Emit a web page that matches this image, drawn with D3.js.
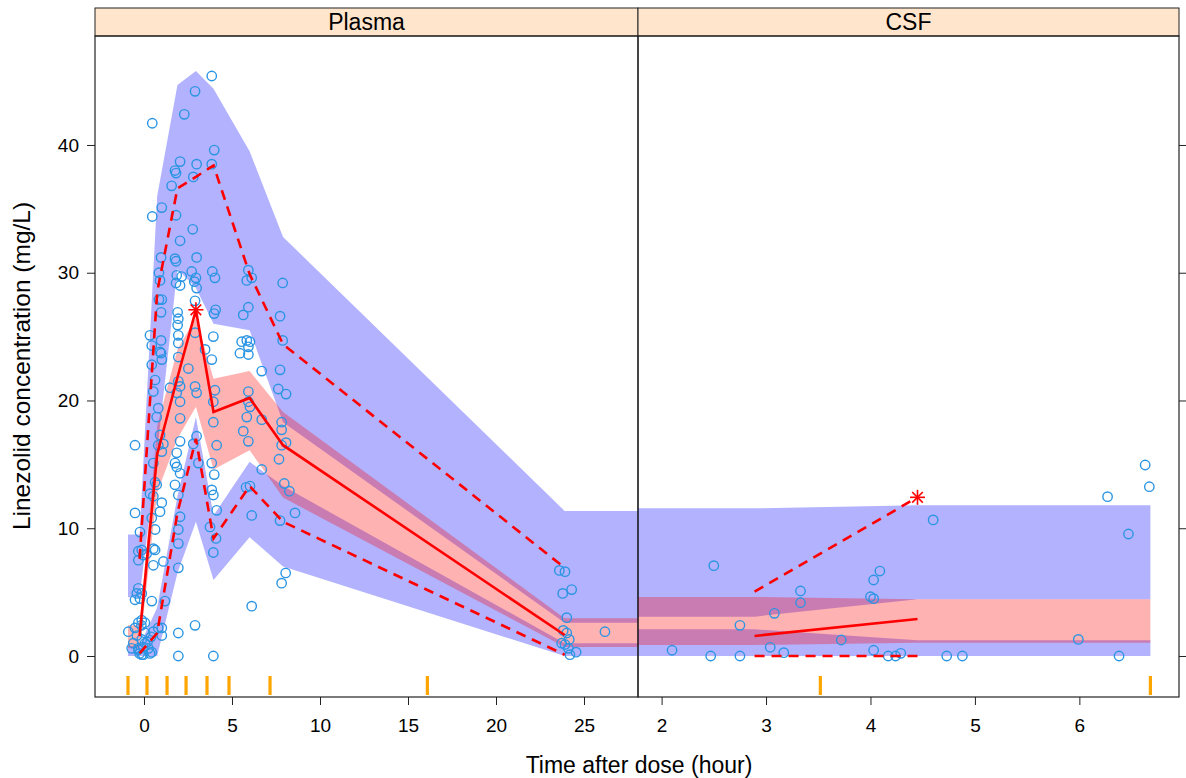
<!DOCTYPE html>
<html><head><meta charset="utf-8">
<script src="https://cdn.jsdelivr.net/npm/d3@7"></script>
<style>
body{margin:0;background:#fff}
text{font-family:"Liberation Sans",Arial,sans-serif;fill:#000}
</style></head>
<body><svg id="c" width="1186" height="778"></svg>
<script>
// ---------------- data ----------------
const panelNames = ["Plasma", "CSF"];
const yTicks = [0, 10, 20, 30, 40];
const plasmaXTicks = [0, 5, 10, 15, 20, 25];
const csfXTicks = [2, 3, 4, 5, 6];

// Plasma: bin times, observed percentiles and simulated CIs
const plasmaBinTime   = [-0.25, 0.75, 1.9, 2.95, 3.95, 6.0, 7.9, 23.9];
const plasmaObsMedian = [1.55, 15.8, 21.8, 27.1, 19.1, 20.2, 16.5, 1.64];
const plasmaObsP95    = [7.6, 28.5, 36.6, 37.5, 38.4, 29.9, 24.4, 6.9];
const plasmaObsP05    = [0.2, 1.8, 11.2, 17.0, 9.2, 13.3, 10.5, 0.1];
const plasmaP95CiLo   = [4.6, 16.0, 30.3, 28.8, 26.0, 25.5, 18.3, 2.6];
const plasmaP95CiHi   = [9.5, 36.0, 44.7, 45.8, 44.4, 39.5, 32.8, 11.35];
const plasmaMedCiLo   = [0.6, 12.8, 17.0, 19.5, 14.6, 16.1, 12.4, 0.7];
const plasmaMedCiHi   = [2.4, 18.0, 24.0, 26.5, 21.7, 22.3, 19.1, 2.95];
const plasmaP05CiLo   = [0, 0, 6.5, 10.5, 5.95, 9.3, 7.0, 0];
const plasmaP05CiHi   = [0.8, 3.8, 12.5, 18.7, 11.0, 15.2, 13.3, 1.0];
const plasmaBinEdges  = [-0.91, 0.17, 1.31, 2.39, 3.58, 4.83, 7.16, 16.1];
const plasmaBandRange = [-0.91, 30];

// CSF
const csfBinTime   = [2.89, 4.45];
const csfObsMedian = [1.57, 2.9];
const csfObsP95    = [5.03, 12.42];
const csfObsP05    = [0, 0];
const csfP95CiLo   = [3.08, 4.44];
const csfP95CiHi   = [11.56, 11.8];
const csfMedCiLo   = [0.86, 1.04];
const csfMedCiHi   = [4.62, 4.44];
const csfP05CiLo   = [0, 0];
const csfP05CiHi   = [2.09, 1.23];
const csfBinEdges  = [3.52, 6.68];
const csfBandRange = [1.5, 6.68];

// observations
const plasmaObsTime = [3.85,2.90,2.29,0.47,3.99,2.05,2.99,3.85,1.76,1.82,2.80,1.57,1.01,0.47,1.82,2.77,2.05,0.97,1.76,1.82,
2.99,2.71,3.88,4.03,5.93,6.12,5.84,0.85,0.91,1.86,2.14,1.82,2.05,2.95,2.86,2.99,7.88,0.85,1.01,2.90,
4.07,3.98,5.93,5.64,0.97,1.91,1.95,1.91,7.73,3.94,0.34,0.44,0.97,1.95,1.95,5.84,5.93,5.45,0.97,1.95,
3.85,2.90,3.47,5.55,6.02,5.93,7.88,1.01,0.91,0.44,6.69,7.73,2.52,1.48,2.05,1.95,1.86,2.05,2.05,2.90,
2.99,4.03,3.94,3.94,5.93,5.93,6.02,5.84,6.69,5.64,5.93,2.05,2.99,2.80,4.13,1.86,1.76,1.86,2.05,1.76,
1.95,3.09,3.85,3.99,3.85,3.94,4.13,5.80,6.02,6.12,0.53,0.63,0.81,0.72,1.01,1.10,0.91,0.81,-0.51,0.53,
0.63,0.72,0.34,0.53,1.01,0.44,0.91,-0.51,-0.23,0.63,0.53,-0.32,-0.32,-0.13,-0.04,0.15,0.63,0.53,1.10,-0.32,
-0.41,-0.23,-0.51,-0.13,0.44,1.19,2.05,1.95,1.95,1.95,3.75,4.09,3.94,6.12,2.90,1.95,1.95,3.94,-0.89,-0.32,
-0.13,0.53,0.81,1.01,-0.70,-0.32,-0.04,0.44,-0.13,-0.51,0.06,1.01,-0.61,0.06,-0.32,-0.13,0.34,-0.15,0.05,-0.40,
0.20,-0.05,0.25,-0.25,0.40,7.82,7.82,7.82,8.07,7.67,7.97,8.26,8.58,7.73,8.05,7.82,6.69,7.63,8.07,23.60,
23.92,23.79,24.30,24.02,23.82,24.02,23.73,23.92,24.16,24.11,24.20,24.55,26.19];
const plasmaObsConc = [45.4,44.2,42.4,41.7,39.6,38.7,38.5,38.5,38.0,37.8,37.5,36.8,35.1,34.4,34.5,33.4,32.5,31.2,31.1,30.9,
31.2,30.1,30.1,29.6,30.2,29.6,29.4,30.0,29.4,29.8,29.7,29.2,29.0,29.6,29.3,28.8,29.2,27.9,27.9,27.8,
27.1,26.8,27.3,26.7,26.9,26.9,26.4,25.9,26.6,25.0,25.1,24.3,24.7,24.5,25.1,24.7,24.2,23.7,23.7,23.4,
23.2,25.3,24.0,24.6,24.6,23.6,24.7,23.2,23.8,22.8,22.3,22.4,22.5,21.0,21.1,21.5,20.6,19.9,18.6,21.1,
20.6,20.8,19.9,18.3,20.7,19.9,19.5,18.7,18.5,17.6,16.8,16.8,17.2,16.6,16.5,15.9,15.1,14.8,14.3,13.4,
12.6,15.1,15.1,14.2,13.0,12.6,11.4,13.2,13.3,11.0,20.7,21.6,19.4,18.7,16.0,16.6,17.3,16.5,16.5,15.1,
13.6,13.4,12.7,12.5,12.0,10.8,11.3,11.2,9.7,9.9,8.4,8.2,7.5,8.3,7.9,8.0,8.3,7.1,7.4,5.3,
4.9,4.5,4.4,4.9,4.3,4.3,10.9,9.9,8.8,6.9,10.1,9.2,8.1,3.9,2.4,1.8,0.0,0.0,1.9,2.6,
2.8,1.9,2.2,1.6,0.6,0.5,0.1,0.3,1.3,2.2,1.8,2.2,1.0,1.0,0.6,0.1,0.2,2.4,2.6,1.6,
1.1,0.7,0.6,0.2,1.5,18.3,17.7,16.5,16.7,15.4,13.5,12.9,11.2,10.6,6.5,5.7,14.6,20.9,20.5,6.7,
6.6,4.9,5.2,3.0,2.0,1.8,1.0,0.9,1.3,0.6,0.1,0.3,1.9];

const csfObsTime = [2.50,2.10,2.47,2.75,2.75,3.04,3.17,3.08,3.33,3.33,3.72,4.09,4.03,4.00,4.03,4.03,4.17,4.24,4.29,4.60,4.73,4.88,5.99,6.38,6.27,6.63,6.67,6.47];
const csfObsConc = [7.07,0.45,0.0,0.0,2.4,0.68,0.26,3.34,5.09,4.17,1.25,6.65,5.95,4.64,4.49,0.45,0.0,0.0,0.21,10.65,0.0,0.0,1.3,0.0,12.47,14.95,13.25,9.55];

// ---------------- layout ----------------
const svg = d3.select("#c");
const panelTop = 36, panelBottom = 697, stripTop = 8;
const y = d3.scaleLinear().domain([-3.21, 48.53]).range([panelBottom, panelTop]);
const xPlasma = d3.scaleLinear().domain([-2.784, 28.068]).range([95, 638]);
const xCsf = d3.scaleLinear().domain([1.774, 6.954]).range([638, 1179]);

const zip = (t, a, b) => t.map((d, i) => ({t: d, lo: a[i], hi: b ? b[i] : a[i]}));

const panels = [
  {name: panelNames[0], x: xPlasma, ticks: plasmaXTicks, bt: plasmaBinTime,
   med: plasmaObsMedian, p95: plasmaObsP95, p05: plasmaObsP05,
   c95: [plasmaP95CiLo, plasmaP95CiHi], cmed: [plasmaMedCiLo, plasmaMedCiHi], c05: [plasmaP05CiLo, plasmaP05CiHi],
   edges: plasmaBinEdges, range: plasmaBandRange, ot: plasmaObsTime, oc: plasmaObsConc},
  {name: panelNames[1], x: xCsf, ticks: csfXTicks, bt: csfBinTime,
   med: csfObsMedian, p95: csfObsP95, p05: csfObsP05,
   c95: [csfP95CiLo, csfP95CiHi], cmed: [csfMedCiLo, csfMedCiHi], c05: [csfP05CiLo, csfP05CiHi],
   edges: csfBinEdges, range: csfBandRange, ot: csfObsTime, oc: csfObsConc}
];

const defs = svg.append("defs");

panels.forEach((p, pi) => {
  const [x0, x1] = p.x.range();
  const clipId = "clip" + pi;
  defs.append("clipPath").attr("id", clipId).append("rect")
    .attr("x", x0).attr("y", panelTop).attr("width", x1 - x0).attr("height", panelBottom - panelTop);
  const g = svg.append("g").attr("clip-path", `url(#${clipId})`);

  const band = (lo, hi) => {
    const pts = zip(p.bt, lo, hi);
    return [{t: p.range[0], lo: lo[0], hi: hi[0]}, ...pts,
            {t: p.range[1], lo: lo[lo.length - 1], hi: hi[hi.length - 1]}];
  };
  const area = d3.area().x(d => p.x(d.t)).y0(d => y(d.lo)).y1(d => y(d.hi));

  // simulated CIs of 5th and 95th percentiles (blue), median (red)
  [p.c95, p.c05].forEach(c => {
    g.append("path").datum(band(c[0], c[1])).attr("d", area)
      .attr("fill", "#0000ff").attr("fill-opacity", 0.3).attr("stroke", "none");
  });
  g.append("path").datum(band(p.cmed[0], p.cmed[1])).attr("d", area)
    .attr("fill", "#ff0000").attr("fill-opacity", 0.3).attr("stroke", "none");

  // observations
  g.selectAll("circle.obs").data(p.ot.map((t, i) => ({t, v: p.oc[i]}))).join("circle")
    .attr("class", "obs")
    .attr("cx", d => p.x(d.t)).attr("cy", d => y(d.v)).attr("r", 4.7)
    .attr("fill", "none").attr("stroke", "#2b95e3").attr("stroke-width", 1.4);

  // observed percentile lines
  const line = d3.line().x(d => p.x(d.t)).y(d => y(d.lo));
  [[p.p05, "10,7"], [p.p95, "10,7"], [p.med, null]].forEach(([vals, dash]) => {
    g.append("path").datum(zip(p.bt, vals)).attr("d", line)
      .attr("fill", "none").attr("stroke", "#ff0000").attr("stroke-width", 2.6)
      .attr("stroke-dasharray", dash);
  });

  // stars where observed percentile falls outside its CI
  const stars = [];
  [[p.p05, p.c05], [p.med, p.cmed], [p.p95, p.c95]].forEach(([obs, ci]) => {
    obs.forEach((v, i) => { if (v > ci[1][i] || v < ci[0][i]) stars.push({t: p.bt[i], v}); });
  });
  const s = 7.5, sd = 5.3;
  stars.forEach(d => {
    const cx = p.x(d.t), cy = y(d.v);
    const sg = svg.append("g").attr("stroke", "#ff0000").attr("stroke-width", 1.6);
    sg.append("line").attr("x1", cx - s).attr("x2", cx + s).attr("y1", cy).attr("y2", cy);
    sg.append("line").attr("x1", cx).attr("x2", cx).attr("y1", cy - s).attr("y2", cy + s);
    sg.append("line").attr("x1", cx - sd).attr("x2", cx + sd).attr("y1", cy - sd).attr("y2", cy + sd);
    sg.append("line").attr("x1", cx - sd).attr("x2", cx + sd).attr("y1", cy + sd).attr("y2", cy - sd);
  });

  // rug of bin boundaries
  g.selectAll("line.rug").data(p.edges).join("line").attr("class", "rug")
    .attr("x1", d => p.x(d)).attr("x2", d => p.x(d))
    .attr("y1", panelBottom - 21).attr("y2", panelBottom - 2)
    .attr("stroke", "#ffa500").attr("stroke-width", 3.2);

  // strip
  svg.append("rect").attr("x", x0).attr("y", stripTop).attr("width", x1 - x0).attr("height", panelTop - stripTop)
    .attr("fill", "#ffe5cc").attr("stroke", "#222").attr("stroke-width", 1);
  svg.append("text").attr("x", (x0 + x1) / 2).attr("y", (stripTop + panelTop) / 2 + 8)
    .attr("text-anchor", "middle").attr("font-size", 23).text(p.name);

  // panel border
  svg.append("rect").attr("x", x0).attr("y", panelTop).attr("width", x1 - x0).attr("height", panelBottom - panelTop)
    .attr("fill", "none").attr("stroke", "#222").attr("stroke-width", 1.2);

  // x axis
  const ax = svg.append("g").attr("transform", `translate(0,${panelBottom})`)
    .call(d3.axisBottom(p.x).tickValues(p.ticks).tickSize(8).tickPadding(14).tickFormat(d3.format("d")));
  ax.select(".domain").remove();
  ax.selectAll("line").attr("stroke", "#222");
  ax.selectAll("text").attr("font-size", 19).attr("font-family", "Liberation Sans, Arial, sans-serif");
});

// y axis (left labels, right ticks)
const ay = svg.append("g").attr("transform", "translate(95,0)")
  .call(d3.axisLeft(y).tickValues(yTicks).tickSize(8).tickPadding(8).tickFormat(d3.format("d")));
ay.select(".domain").remove();
ay.selectAll("line").attr("stroke", "#222");
ay.selectAll("text").attr("font-size", 19).attr("font-family", "Liberation Sans, Arial, sans-serif");
const ayr = svg.append("g").attr("transform", "translate(1179,0)")
  .call(d3.axisRight(y).tickValues(yTicks).tickSize(7).tickFormat(""));
ayr.select(".domain").remove();
ayr.selectAll("line").attr("stroke", "#222");

// axis titles
svg.append("text").attr("x", 639).attr("y", 773).attr("text-anchor", "middle")
  .attr("font-size", 23).text("Time after dose (hour)");
svg.append("text").attr("transform", "translate(30,366) rotate(-90)").attr("text-anchor", "middle")
  .attr("font-size", 24.5).text("Linezolid concentration (mg/L)");
</script>
</body></html>
